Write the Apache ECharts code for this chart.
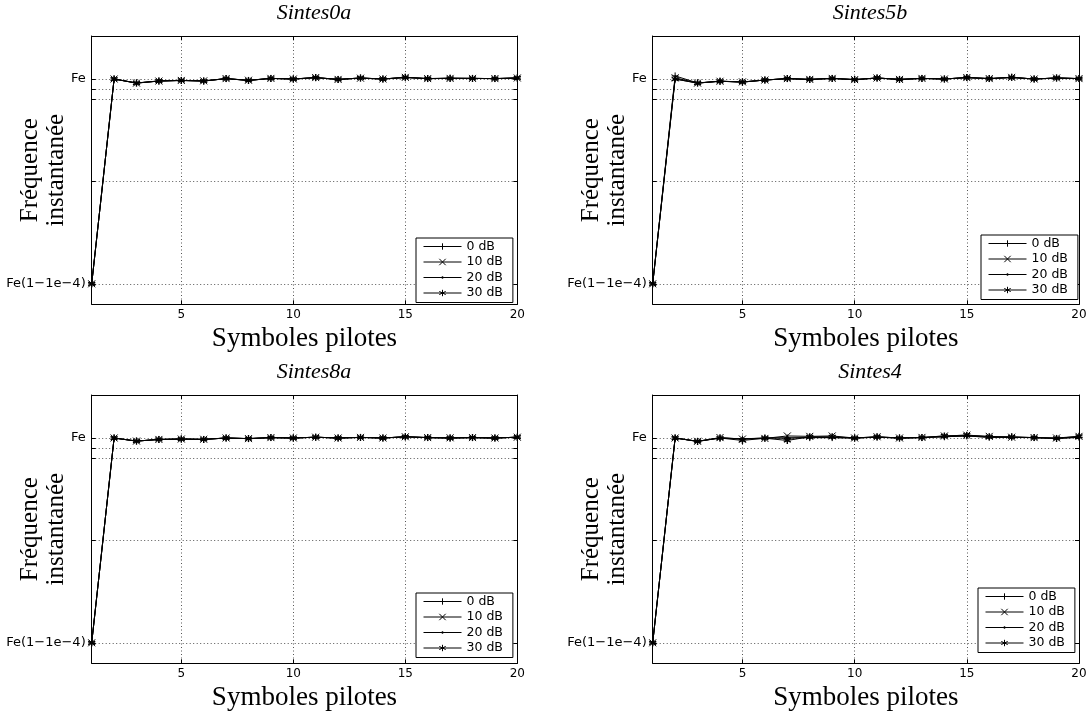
<!DOCTYPE html>
<html>
<head>
<meta charset="utf-8">
<script src="https://cdn.jsdelivr.net/npm/echarts@6/dist/echarts.min.js"></script>
<style>html,body{margin:0;padding:0;background:#fff;}#c{width:1087px;height:716px;}</style>
</head>
<body>
<div id="c"></div>
<script>
// ---- data (y: 0 = Fe(1-1e-4), 1 = Fe) ----
const symbolsX = [1,2,3,4,5,6,7,8,9,10,11,12,13,14,15,16,17,18,19,20];
const seriesNames = ['0 dB','10 dB','20 dB','30 dB'];
const panelTitles = ['Sintes0a','Sintes5b','Sintes8a','Sintes4'];
const xTickValues = [5,10,15,20];
const yTickValues = [0,0.5,0.9,0.95,1];
const yLabelValues = [0,1];
const yLabelTexts = ['Fe(1\u22121e\u22124)','Fe'];

const s0a_0dB  = [0,1.000,0.981,0.990,0.993,0.990,1.002,0.993,1.003,1.000,1.006,0.998,1.005,1.000,1.008,1.002,1.005,1.003,1.002,1.005];
const s0a_10dB = [0,1.000,0.980,0.990,0.993,0.991,1.002,0.994,1.003,1.000,1.007,0.998,1.004,1.000,1.008,1.002,1.003,1.003,1.002,1.005];
const s0a_20dB = [0,1.000,0.980,0.991,0.993,0.990,1.002,0.993,1.003,1.000,1.007,0.998,1.005,1.000,1.007,1.002,1.003,1.003,1.002,1.005];
const s0a_30dB = [0,1.000,0.980,0.990,0.993,0.990,1.002,0.993,1.003,1.000,1.007,0.998,1.005,1.000,1.008,1.002,1.003,1.003,1.002,1.005];

const s5b_0dB  = [0,1.015,0.981,0.989,0.985,0.995,1.002,0.998,1.003,0.997,1.005,0.998,1.003,1.000,1.007,1.002,1.008,1.000,1.005,1.002];
const s5b_10dB = [0,1.006,0.980,0.989,0.986,0.995,1.002,0.998,1.003,0.997,1.005,0.998,1.003,1.000,1.007,1.002,1.008,1.000,1.005,1.002];
const s5b_20dB = [0,1.000,0.980,0.990,0.985,0.995,1.002,0.998,1.003,0.997,1.005,0.998,1.003,1.000,1.007,1.002,1.007,1.000,1.005,1.002];
const s5b_30dB = [0,1.000,0.980,0.989,0.985,0.995,1.002,0.998,1.003,0.997,1.005,0.998,1.003,1.000,1.007,1.002,1.008,1.000,1.005,1.002];

const s8a_0dB  = [0,1.000,0.985,0.993,0.995,0.993,1.000,0.997,1.002,1.000,1.004,1.000,1.003,1.000,1.006,1.002,1.000,1.002,1.000,1.004];
const s8a_10dB = [0,1.000,0.985,0.993,0.995,0.994,1.000,0.997,1.002,1.000,1.004,1.000,1.003,1.000,1.006,1.002,1.001,1.002,1.000,1.004];
const s8a_20dB = [0,1.000,0.985,0.993,0.995,0.993,1.000,0.997,1.002,1.000,1.004,1.000,1.003,1.000,1.006,1.002,1.000,1.002,1.000,1.004];
const s8a_30dB = [0,1.000,0.985,0.993,0.995,0.993,1.000,0.997,1.002,1.000,1.004,1.000,1.003,1.000,1.006,1.002,1.000,1.002,1.000,1.004];

const s4_0dB  = [0,1.000,0.984,1.000,0.995,1.000,1.000,1.002,1.002,1.000,1.004,1.000,1.002,1.006,1.010,1.004,1.004,1.002,0.998,1.004];
const s4_10dB = [0,1.000,0.984,1.002,0.995,0.998,1.010,1.008,1.010,1.000,1.006,1.000,1.003,1.010,1.014,1.008,1.004,1.002,1.000,1.008];
const s4_20dB = [0,1.000,0.984,1.000,0.996,1.000,1.000,1.002,1.002,1.000,1.004,1.000,1.002,1.006,1.010,1.003,1.003,1.002,0.998,1.003];
const s4_30dB = [0,1.000,0.983,1.000,0.988,0.999,0.988,1.006,1.006,1.000,1.006,1.000,1.002,1.010,1.014,1.006,1.006,1.002,0.998,1.008];

const panelData = [
  [s0a_0dB, s0a_10dB, s0a_20dB, s0a_30dB],
  [s5b_0dB, s5b_10dB, s5b_20dB, s5b_30dB],
  [s8a_0dB, s8a_10dB, s8a_20dB, s8a_30dB],
  [s4_0dB, s4_10dB, s4_20dB, s4_30dB]
];

// ---- layout & style ----
const layout = [
  {left: 91.7, top: 36, width: 425.6, height: 268.3, titleX: 314, titleY: 2, legL: 416, legT: 238},
  {left: 652.7, top: 36, width: 426.3, height: 268.3, titleX: 870, titleY: 2, legL: 981, legT: 235},
  {left: 91.7, top: 395, width: 425.6, height: 268.3, titleX: 314, titleY: 361, legL: 416, legT: 593},
  {left: 652.7, top: 395, width: 426.3, height: 268.3, titleX: 870, titleY: 361, legL: 978, legT: 588}
];
const markerSymbols = [
  'path://M0,5L10,5M5,0L5,10',
  'path://M1.5,1.5L8.5,8.5M1.5,8.5L8.5,1.5',
  'path://M0,0M10,10M4,4L6,4L6,6L4,6Z',
  'path://M5,0L5,10M0.7,2.5L9.3,7.5M0.7,7.5L9.3,2.5'
];
const markerSizes = [7, 7, 10, 7];
const markerStroke = [1, 1, 1, 1.4];
const sansFont = 'DejaVu Sans';
const serifFont = 'Liberation Serif';
const gridLine = {show: true, lineStyle: {color: '#555', width: 1, type: [1, 2.5]}};
const axisLine = {show: true, onZero: false, lineStyle: {color: '#000', width: 1}};

const grids = [], xAxes = [], yAxes = [], series = [], titles = [], legends = [];
layout.forEach((L, p) => {
  grids.push({left: L.left, top: L.top, width: L.width, height: L.height, containLabel: false, outerBoundsMode: 'none'});
  titles.push({text: panelTitles[p], left: L.titleX, top: L.titleY, textAlign: 'center', padding: 0,
    textStyle: {fontFamily: serifFont, fontStyle: 'italic', fontWeight: 'normal', fontSize: 22, color: '#000'}});
  xAxes.push({type: 'value', gridIndex: p, position: 'bottom', min: 1, max: 20,
    axisLine: axisLine,
    axisTick: {show: true, inside: true, length: 4, customValues: xTickValues, lineStyle: {color: '#000'}},
    axisLabel: {show: true, customValues: xTickValues, margin: 5, fontFamily: sansFont, fontSize: 12, color: '#000'},
    splitLine: gridLine,
    name: 'Symboles pilotes', nameLocation: 'middle', nameGap: 20, nameMoveOverlap: false,
    nameTextStyle: {fontFamily: serifFont, fontSize: 27, color: '#000', lineHeight: 30}});
  xAxes.push({type: 'value', gridIndex: p, position: 'top', min: 1, max: 20,
    axisLine: axisLine,
    axisTick: {show: true, inside: true, length: 4, customValues: xTickValues, lineStyle: {color: '#000'}},
    axisLabel: {show: false}, splitLine: {show: false}});
  yAxes.push({type: 'value', gridIndex: p, position: 'left', min: -0.1, max: 1.21,
    axisLine: axisLine,
    axisTick: {show: true, inside: true, length: 4, customValues: yTickValues, lineStyle: {color: '#000'}},
    axisLabel: {show: true, customValues: yLabelValues, margin: 6, fontFamily: sansFont, fontSize: 13, color: '#000',
      formatter: v => { const i = yLabelValues.indexOf(v); return i >= 0 ? yLabelTexts[i] : ''; }},
    splitLine: gridLine,
    name: 'Fr\u00e9quence\ninstantan\u00e9e', nameLocation: 'middle', nameGap: 22, nameRotate: 90, nameMoveOverlap: false,
    nameTextStyle: {fontFamily: serifFont, fontSize: 25, lineHeight: 26, color: '#000'}});
  yAxes.push({type: 'value', gridIndex: p, position: 'right', min: -0.1, max: 1.21,
    axisLine: axisLine,
    axisTick: {show: true, inside: true, length: 4, customValues: yTickValues, lineStyle: {color: '#000'}},
    axisLabel: {show: false}, splitLine: {show: false}});
  panelData[p].forEach((vals, s) => {
    series.push({
      type: 'line', name: seriesNames[s], xAxisIndex: 2 * p, yAxisIndex: 2 * p,
      data: symbolsX.map((x, i) => [x, vals[i]]),
      symbol: markerSymbols[s], symbolSize: markerSizes[s], showAllSymbol: true,
      lineStyle: {color: '#000', width: 1},
      itemStyle: {color: '#000', borderColor: '#000', borderWidth: markerStroke[s]},
      emphasis: {disabled: true}, z: 3 + s
    });
  });
  legends.push({
    orient: 'vertical', left: L.legL, top: L.legT, data: seriesNames,
    backgroundColor: '#fff', borderColor: '#000', borderWidth: 1, borderRadius: 0,
    padding: [2, 10, 3, 7], itemWidth: 38, itemHeight: 8, itemGap: 2.5,
    lineStyle: {width: 1, color: '#000'},
    itemStyle: {color: '#000', borderColor: '#000', borderWidth: 1},
    textStyle: {fontFamily: sansFont, fontSize: 12.5, color: '#000', lineHeight: 12},
    selectedMode: false, z: 10
  });
});

const chart = echarts.init(document.getElementById('c'), null, {renderer: 'canvas'});
chart.setOption({
  animation: false,
  backgroundColor: '#fff',
  title: titles, grid: grids, xAxis: xAxes, yAxis: yAxes, legend: legends, series: series
});
</script>
</body>
</html>
